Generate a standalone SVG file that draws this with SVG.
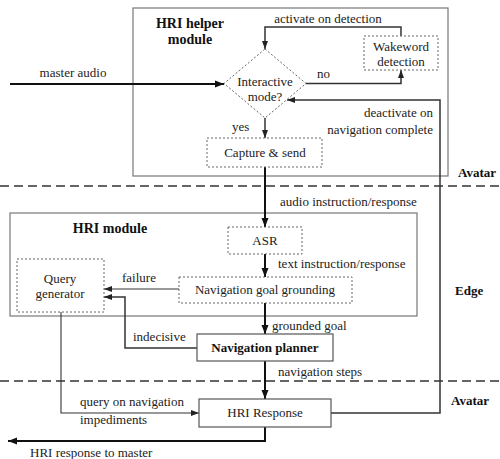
<svg xmlns="http://www.w3.org/2000/svg" width="500" height="459" viewBox="0 0 500 459">
<style>
text{font-family:"Liberation Serif","Times New Roman",serif;font-size:13px;fill:#222}
.b{font-weight:bold;fill:#111}
.m{text-anchor:middle}
.e{text-anchor:end}
.mod{fill:none;stroke:#777;stroke-width:1.2}
.dot{fill:#fff;stroke:#666;stroke-width:1;stroke-dasharray:2,2}
.sol{fill:#fff;stroke:#555;stroke-width:1.2}
.sep{stroke:#333;stroke-width:1.5;stroke-dasharray:9,5}
.c{fill:none;stroke:#111}
.t2{stroke-width:2}
.t15{stroke-width:1.5;stroke:#333}
.t1{stroke-width:1.1;stroke:#333}
</style>
<defs>
<marker id="a" markerUnits="userSpaceOnUse" markerWidth="10" markerHeight="10" refX="9" refY="5" orient="auto"><path d="M0,1.5 L9,5 L0,8.5 Z" fill="#111"/></marker>
<marker id="s" markerUnits="userSpaceOnUse" markerWidth="10" markerHeight="10" refX="8" refY="5" orient="auto"><path d="M0,2 L8,5 L0,8 Z" fill="#222"/></marker>
</defs>
<g id="modules">
<rect class="mod" x="133" y="8" width="315" height="168"/>
<text class="b m" x="190" y="28" style="font-size:14px">HRI helper</text>
<text class="b m" x="190" y="44" style="font-size:14px">module</text>
<rect class="mod" x="10" y="213" width="407" height="103"/>
<text class="b m" x="110" y="233" style="font-size:14px">HRI module</text>
</g>
<g id="separators">
<line class="sep" x1="0" y1="186" x2="500" y2="186"/>
<line class="sep" x1="0" y1="381" x2="500" y2="381"/>
<text class="b" x="458" y="177">Avatar</text>
<text class="b" x="455" y="295">Edge</text>
<text class="b" x="451" y="405">Avatar</text>
</g>
<g id="connectors">
<path class="c t2" d="M10,84 H224" marker-end="url(#a)"/>
<text class="m" x="73" y="77">master audio</text>
<path class="c t15" d="M265,118 V138" marker-end="url(#s)"/>
<text x="232" y="131">yes</text>
<path class="c t15" d="M306,83.5 H401 V70" marker-end="url(#s)"/>
<text x="317" y="78">no</text>
<path class="c t15" d="M401,36 V27 H265 V49" marker-end="url(#s)"/>
<text class="m" x="328" y="23">activate on detection</text>
<path class="c t2" d="M265,167 V227" marker-end="url(#a)"/>
<text x="280" y="206">audio instruction/response</text>
<path class="c t2" d="M265,254 V277" marker-end="url(#a)"/>
<text x="278" y="268">text instruction/response</text>
<path class="c t1" d="M179,289 H104" marker-end="url(#s)"/>
<text x="122" y="282">failure</text>
<path class="c t2" d="M265,303 V334" marker-end="url(#a)"/>
<text x="272" y="330">grounded goal</text>
<path class="c t15" d="M197,348 H125 V297 H104" marker-end="url(#s)"/>
<text x="133" y="341">indecisive</text>
<path class="c t2" d="M265,361 V399" marker-end="url(#a)"/>
<text x="278" y="376">navigation steps</text>
<path class="c t1" d="M61,312 V413 H199" marker-end="url(#s)"/>
<text x="80" y="406">query on navigation</text>
<text x="80" y="424">impediments</text>
<path class="c t15" d="M331,413 H440 V100 H287" marker-end="url(#s)"/>
<text class="e" x="433" y="117">deactivate on</text>
<text class="e" x="433" y="134">navigation complete</text>
<path class="c t2" d="M265,427 V441 H8" marker-end="url(#a)"/>
<text x="30" y="457">HRI response to master</text>
</g>
<g id="interactive-mode">
<polygon class="dot" points="265,49 306,83.5 265,118 224,83.5"/>
<text class="m" x="265" y="86">Interactive</text>
<text class="m" x="265" y="101">mode?</text>
</g>
<g id="wakeword">
<rect class="dot" x="364" y="36" width="74" height="34"/>
<text class="m" x="401" y="51">Wakeword</text>
<text class="m" x="401" y="66">detection</text>
</g>
<g id="capture">
<rect class="dot" x="207" y="138" width="115" height="29"/>
<text class="m" x="265" y="157">Capture &amp; send</text>
</g>
<g id="asr">
<rect class="dot" x="228" y="227" width="74" height="27"/>
<text class="m" x="265" y="245">ASR</text>
</g>
<g id="grounding">
<rect class="dot" x="179" y="277" width="173" height="26"/>
<text class="m" x="265" y="294">Navigation goal grounding</text>
</g>
<g id="query-generator">
<rect class="dot" x="17" y="259" width="87" height="53"/>
<text class="m" x="60" y="283">Query</text>
<text class="m" x="60" y="298">generator</text>
</g>
<g id="planner">
<rect class="sol" x="197" y="334" width="136" height="27"/>
<text class="b m" x="265" y="352">Navigation planner</text>
</g>
<g id="hri-response">
<rect class="sol" x="199" y="399" width="132" height="28"/>
<text class="m" x="265" y="417">HRI Response</text>
</g>
</svg>
